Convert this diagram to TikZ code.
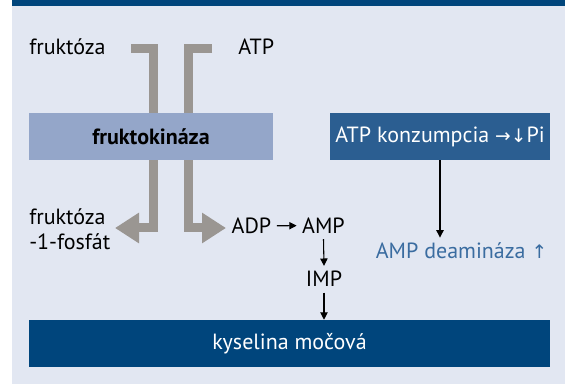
\documentclass[tikz,border=0pt]{standalone}
\usepackage{fontspec}
\setmainfont{PT Sans}
\newfontfamily\arrowfont{DejaVu Sans}
\usepackage{tikz}
\usetikzlibrary{arrows.meta}
\definecolor{darkblue}{RGB}{0,69,124}
\definecolor{midblue}{RGB}{43,94,145}
\definecolor{paleblue}{RGB}{148,166,201}
\definecolor{bgblue}{RGB}{226,231,242}
\definecolor{arrowgray}{RGB}{154,150,146}
\definecolor{textblue}{RGB}{58,108,160}
\tikzset{
  box/.style={inner sep=0pt,minimum height=47*0.75pt},
  txt/.style={inner sep=4pt},
  bigarrow/.style={draw=arrowgray,line width=6.75pt,line join=miter,
    -{Triangle[width=21.75pt,length=18pt]}},
  thinarrow/.style={draw=black,line width=0.8pt,-{Triangle[width=5.5pt,length=5.5pt]}}
}

\begin{document}
\begin{tikzpicture}[x=0.75pt,y=-0.75pt,font=\fontsize{16.5}{18.75}\selectfont]
    \useasboundingbox (0,0) rectangle (565,384);
    \fill[bgblue] (12,0) rectangle (565,384);
    \fill[darkblue] (12,0) rectangle (565,6);
    % substrates
    \node[txt,inner xsep=0pt,anchor=base west] (fru) at (29,54.5) {fruktóza};
    \node[txt,inner xsep=0pt,anchor=base west] (atp) at (238,54.5) {ATP};
    \coordinate (fruin) at (131,48.5);
    \coordinate (fruout) at (115,228);
    \coordinate (atpin) at (212,48.5);
    \coordinate (atpout) at (226,228);
    \draw[bigarrow] (fruin) -| (153.5,228) -- (fruout);
    \draw[bigarrow] (atpin) -| (188.5,228) -- (atpout);
    % enzyme boxes
    \node[box,fill=paleblue,minimum width=244*0.75pt] (kin) at (151,136.5) {\textbf{fruktokináza}};
    \node[box,fill=midblue,minimum width=220*0.75pt,text=white] (konz) at (440,136.5)
      {ATP konzumpcia {\arrowfont\fontsize{14}{15}\selectfont →↓}Pi};
    % products
    \node[txt,inner xsep=0pt,anchor=west,align=left] (fru1p) at (29,229) {fruktóza\\-1-fosfát};
    \node[txt,anchor=base] (adp) at (251.5,233.5) {ADP};
    \node[txt,anchor=base] (amp) at (323.5,233.5) {AMP};
    \node[txt,anchor=base] (imp) at (324,287) {IMP};
    \node[txt,anchor=base,text=textblue] (deam) at (461.5,259)
      {AMP deamináza {\arrowfont\fontsize{14}{15}\selectfont ↑}};
    \node[box,fill=darkblue,minimum width=521*0.75pt,text=white] (kys) at (289.5,343.5) {kyselina močová};
    % thin arrows
    \draw[thinarrow] (adp.east) -- (amp.west);
    \draw[thinarrow] (amp.south) -- (imp.north);
    \draw[thinarrow] (imp.south) -- (imp.south |- kys.north);
    \draw[thinarrow] (konz.south) -- (konz.south |- deam.north);
\end{tikzpicture}
\end{document}
